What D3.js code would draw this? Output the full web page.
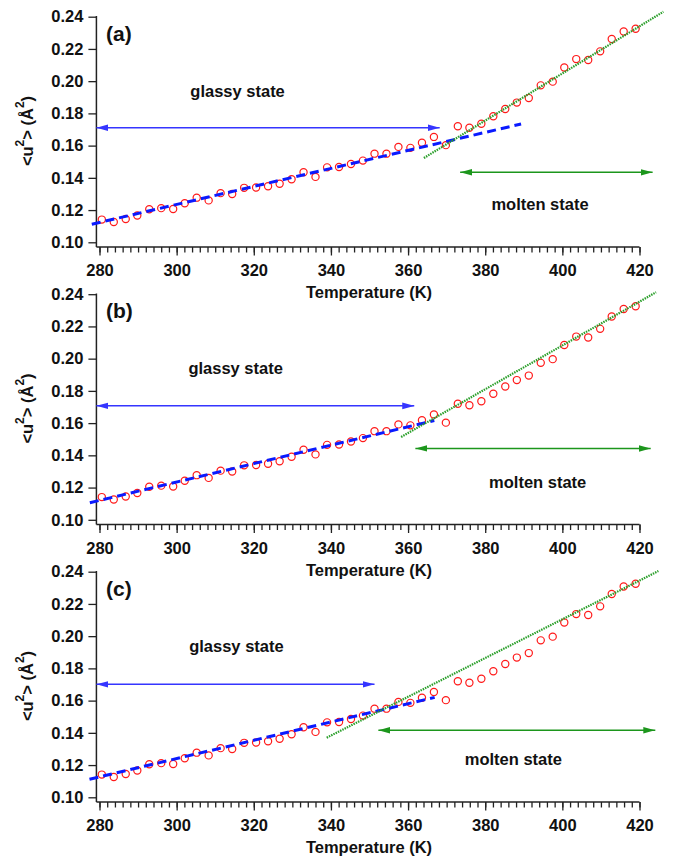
<!DOCTYPE html>
<html>
<head>
<meta charset="utf-8">
<script src="https://cdn.jsdelivr.net/npm/d3@7"></script>
<style>
  body { margin: 0; background: #fff; }
  svg text { font-family: "Liberation Sans", Arial, sans-serif; font-weight: bold; fill: #111; }
</style>
</head>
<body>
<svg id="chart-svg" width="677" height="859"></svg>
<script>
// Mean square displacement vs temperature, three panels with different fits

const temperature = [280.6, 283.7, 286.8, 289.8, 292.9, 296.0, 299.1, 302.1, 305.2, 308.3,
  311.4, 314.4, 317.5, 320.6, 323.7, 326.7, 329.8, 332.9, 336.0, 339.0,
  342.1, 345.2, 348.3, 351.3, 354.4, 357.5, 360.6, 363.6, 366.7, 369.8,
  372.9, 375.9, 379.0, 382.1, 385.2, 388.2, 391.3, 394.4, 397.5, 400.5,
  403.6, 406.7, 409.8, 412.8, 415.9, 419.0];
const msd = [0.1141, 0.1126, 0.1145, 0.1166, 0.1205, 0.1212, 0.1207, 0.1242, 0.1277, 0.1260,
  0.1305, 0.1300, 0.1338, 0.1340, 0.1348, 0.1363, 0.1391, 0.1435, 0.1406, 0.1465,
  0.1467, 0.1486, 0.1507, 0.1550, 0.1550, 0.1592, 0.1586, 0.1618, 0.1654, 0.1603,
  0.1720, 0.1711, 0.1736, 0.1782, 0.1827, 0.1867, 0.1895, 0.1974, 0.1997, 0.2085,
  0.2137, 0.2131, 0.2185, 0.2262, 0.2308, 0.2325];

const xTicks = [280, 300, 320, 340, 360, 380, 400, 420];
const yTicks = [0.10, 0.12, 0.14, 0.16, 0.18, 0.20, 0.22, 0.24];
const panelNames = ["(a)", "(b)", "(c)"];

// fit lines per panel: [start, end]
const glassyFitT = [[278.0, 389.3], [277.5, 366.8], [277.4, 366.9]];
const glassyFitU = [[0.1112, 0.1734], [0.1106, 0.1616], [0.1112, 0.1620]];
const moltenFitT = [[364.1, 426.2], [358.2, 424.3], [338.9, 424.9]];
const moltenFitU = [[0.1523, 0.2431], [0.1514, 0.2412], [0.1370, 0.2404]];

// range arrows per panel
const glassyArrowT = [[279.2, 368.2], [279.2, 361.6], [279.2, 351.3]];
const glassyArrowU = [0.1711, 0.1707, 0.1701];
const moltenArrowT = [[373.5, 423.4], [361.9, 422.9], [352.3, 424.1]];
const moltenArrowU = [0.1434, 0.1443, 0.1416];

const glassyLabelT = [315.8, 315.3, 315.5];
const moltenLabelT = [394.2, 393.6, 387.3];
const glassyLabelU = 0.1942;
const moltenLabelU = 0.1237;

const svg = d3.select('#chart-svg');
const panelTop = [0, 277.5, 555];

// x scale shared by all panels
const xScale = d3.scaleLinear().domain([280, 420]).range([99.5, 639.5]);

// arrow heads
const defs = svg.append("defs");
[["blueHead", "#3535ff"], ["greenHead", "#1c961c"]].forEach(([id, col]) => {
    defs.append("marker")
        .attr("id", id)
        .attr("markerUnits", "userSpaceOnUse")
        .attr("viewBox", "0 -4 12 8")
        .attr("refX", 12).attr("refY", 0)
        .attr("markerWidth", 12).attr("markerHeight", 8)
        .attr("orient", "auto-start-reverse")
        .append("path")
        .attr("d", "M0,-3.3L12,0L0,3.3Z")
        .attr("fill", col);
});

panelNames.forEach((name, i) => {
    const top = panelTop[i];
    const g = svg.append("g");

    const yScale = d3.scaleLinear().domain([0.10, 0.24]).range([top + 242.3, top + 16.7]);
    const axisY = top + 247;
    const axisX = xScale(279.2);

    // Y axis
    const yAxis = g.append("g")
        .attr("transform", "translate(" + axisX + ",0)")
        .call(d3.axisLeft(yScale).tickValues(yTicks).tickSize(8).tickPadding(5).tickFormat(d3.format(".2f")));
    yAxis.select(".domain").remove();
    g.append("line")
        .attr("x1", axisX).attr("x2", axisX)
        .attr("y1", top + 16).attr("y2", axisY)
        .attr("stroke", "#222").attr("stroke-width", 1.5);

    // X axis minor ticks
    const xMinor = g.append("g")
        .attr("transform", "translate(0," + axisY + ")")
        .call(d3.axisBottom(xScale).tickValues(d3.range(280, 421, 2)).tickSize(5.5).tickFormat(""));
    xMinor.select(".domain").remove();

    // X axis major ticks
    const xAxis = g.append("g")
        .attr("transform", "translate(0," + axisY + ")")
        .call(d3.axisBottom(xScale).tickValues(xTicks).tickSize(8.5).tickPadding(9));
    xAxis.select(".domain").remove();
    g.append("line")
        .attr("x1", axisX).attr("x2", xScale(420))
        .attr("y1", axisY).attr("y2", axisY)
        .attr("stroke", "#222").attr("stroke-width", 1.5);

    g.selectAll(".tick line").attr("stroke", "#222").attr("stroke-width", 1.3);
    g.selectAll(".tick text")
        .attr("font-size", 16.5)
        .attr("font-family", "Liberation Sans, Arial, sans-serif")
        .attr("font-weight", "bold")
        .attr("fill", "#111");

    // Axis titles
    g.append("text")
        .attr("x", 369).attr("y", top + 298)
        .attr("text-anchor", "middle")
        .attr("font-size", 16.5)
        .text("Temperature (K)");

    const yl = g.append("text")
        .attr("transform", "translate(33," + (top + 131) + ") rotate(-90)")
        .attr("text-anchor", "middle")
        .attr("font-size", 16.5);
    yl.append("tspan").text("<u");
    yl.append("tspan").attr("font-size", 12).attr("dy", -9).text("2");
    yl.append("tspan").attr("dy", 9).text("> (Å");
    yl.append("tspan").attr("font-size", 12).attr("dy", -9).text("2");
    yl.append("tspan").attr("dy", 9).text(")");

    // Panel label
    g.append("text")
        .attr("x", 106).attr("y", top + 40.5)
        .attr("font-size", 21)
        .text(name);

    // Data points
    g.selectAll("circle")
        .data(temperature.map((t, k) => [t, msd[k]]))
        .join("circle")
        .attr("cx", d => xScale(d[0]))
        .attr("cy", d => yScale(d[1]))
        .attr("r", 3.6)
        .attr("fill", "none")
        .attr("stroke", "#ff1a1a")
        .attr("stroke-width", 1.2);

    // Glassy fit (dashed blue)
    g.append("line")
        .attr("x1", xScale(glassyFitT[i][0])).attr("y1", yScale(glassyFitU[i][0]))
        .attr("x2", xScale(glassyFitT[i][1])).attr("y2", yScale(glassyFitU[i][1]))
        .attr("stroke", "#0a1aff")
        .attr("stroke-width", 3)
        .attr("stroke-dasharray", "9,5");

    // Molten fit (dotted green)
    g.append("line")
        .attr("x1", xScale(moltenFitT[i][0])).attr("y1", yScale(moltenFitU[i][0]))
        .attr("x2", xScale(moltenFitT[i][1])).attr("y2", yScale(moltenFitU[i][1]))
        .attr("stroke", "#2a9f2a")
        .attr("stroke-width", 2.2)
        .attr("stroke-dasharray", "1.5,1");

    // Range arrows
    g.append("line")
        .attr("x1", xScale(glassyArrowT[i][0])).attr("x2", xScale(glassyArrowT[i][1]))
        .attr("y1", yScale(glassyArrowU[i])).attr("y2", yScale(glassyArrowU[i]))
        .attr("stroke", "#3535ff").attr("stroke-width", 1.5)
        .attr("marker-start", "url(#blueHead)")
        .attr("marker-end", "url(#blueHead)");

    g.append("line")
        .attr("x1", xScale(moltenArrowT[i][0])).attr("x2", xScale(moltenArrowT[i][1]))
        .attr("y1", yScale(moltenArrowU[i])).attr("y2", yScale(moltenArrowU[i]))
        .attr("stroke", "#1c961c").attr("stroke-width", 1.5)
        .attr("marker-start", "url(#greenHead)")
        .attr("marker-end", "url(#greenHead)");

    // State labels
    g.append("text")
        .attr("x", xScale(glassyLabelT[i])).attr("y", yScale(glassyLabelU) + 6)
        .attr("text-anchor", "middle")
        .attr("font-size", 16.5)
        .text("glassy state");

    g.append("text")
        .attr("x", xScale(moltenLabelT[i])).attr("y", yScale(moltenLabelU) + 6)
        .attr("text-anchor", "middle")
        .attr("font-size", 16.5)
        .text("molten state");
});
</script>
</body>
</html>
